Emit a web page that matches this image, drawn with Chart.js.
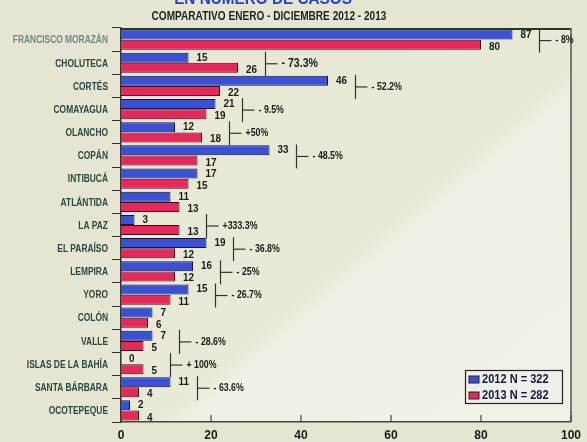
<!DOCTYPE html>
<html><head><meta charset="utf-8">
<script src="https://cdn.jsdelivr.net/npm/chart.js@4/dist/chart.umd.min.js"></script>
<style>html,body{margin:0;padding:0;background:#e5e5d1;}canvas{display:block;}</style>
</head><body>
<canvas id="c" width="587" height="442"></canvas>
<script>
const categories = ['FRANCISCO MORAZÁN','CHOLUTECA','CORTÉS','COMAYAGUA','OLANCHO','COPÁN','INTIBUCÁ','ATLÁNTIDA','LA PAZ','EL PARAÍSO','LEMPIRA','YORO','COLÓN','VALLE','ISLAS DE LA BAHÍA','SANTA BÁRBARA','OCOTEPEQUE'];
const cases2012 = [87,15,46,21,12,33,17,11,3,19,16,15,7,7,0,11,2];
const cases2013 = [80,26,22,19,18,17,15,13,13,12,12,11,6,5,5,4,4];
const changeLabels = ['- 8%','- 73.3%','- 52.2%','- 9.5%','+50%','- 48.5%','','','+333.3%','- 36.8%','- 25%','- 26.7%','','- 28.6%','+ 100%','- 63.6%',''];
const seriesNames = ['2012 N = 322','2013 N = 282'];
const xTicks = [0,20,40,60,80,100];
const titleText = 'EN NÚMERO DE CASOS';
const subtitleText = 'COMPARATIVO ENERO - DICIEMBRE 2012 - 2013';

const FONT = '"Liberation Sans", Arial, sans-serif';
const BLUE = '#3a50d6', RED = '#e6285a';

function narrowText(ctx, text, x, y, align, sx) {
  ctx.save();
  ctx.translate(x, y);
  ctx.scale(sx, 1);
  ctx.textAlign = align;
  ctx.fillText(text, 0, 0);
  ctx.restore();
}

const overlay = {
  id: 'overlay',
  beforeDraw(chart) {
    const ctx = chart.ctx, a = chart.chartArea;
    ctx.save();
    ctx.fillStyle = '#e5e5d1';
    ctx.fillRect(0, 0, chart.width, chart.height);
    const g = ctx.createLinearGradient(a.left + 200, a.top, a.right, a.bottom - 100);
    g.addColorStop(0, '#e8e8d5');
    g.addColorStop(0.5, '#e9e9d8');
    g.addColorStop(0.55, '#efefe3');
    g.addColorStop(1, '#f1f1e8');
    ctx.fillStyle = g;
    ctx.fillRect(a.left, a.top, a.right - a.left, a.bottom - a.top);
    ctx.textBaseline = 'alphabetic';
    ctx.fillStyle = '#2a3fc8';
    ctx.font = 'bold 17px ' + FONT;
    narrowText(ctx, titleText, 263, 4, 'center', 0.9);
    ctx.fillStyle = '#15281c';
    ctx.font = 'bold 12px ' + FONT;
    narrowText(ctx, subtitleText, 269, 20, 'center', 0.84);
    ctx.restore();
  },
  afterDatasetsDraw(chart) {
    const ctx = chart.ctx, a = chart.chartArea;
    const xs = chart.scales.x, ys = chart.scales.y;
    const m0 = chart.getDatasetMeta(0), m1 = chart.getDatasetMeta(1);
    ctx.save();
    // frame top & right
    ctx.strokeStyle = '#1f3a22';
    ctx.lineWidth = 2;
    ctx.beginPath(); ctx.moveTo(a.left, a.top + 1); ctx.lineTo(a.right, a.top + 1); ctx.stroke();
    ctx.strokeStyle = '#555';
    ctx.lineWidth = 1.5;
    ctx.beginPath(); ctx.moveTo(a.right, a.top); ctx.lineTo(a.right, a.bottom); ctx.stroke();
    // inward x ticks
    ctx.strokeStyle = '#444';
    ctx.lineWidth = 1.2;
    xTicks.forEach(v => {
      const x = xs.getPixelForValue(v);
      ctx.beginPath(); ctx.moveTo(x, a.bottom); ctx.lineTo(x, a.bottom - 7); ctx.stroke();
    });
    // category labels
    ctx.textBaseline = 'middle';
    ctx.font = 'bold 10px ' + FONT;
    categories.forEach((c, i) => {
      ctx.fillStyle = i === 0 ? '#6a8a88' : '#2a4846';
      narrowText(ctx, c, a.left - 13, ys.getPixelForValue(i) + 1, 'right', 0.84);
    });
    // value labels
    ctx.fillStyle = '#1a1a1a';
    ctx.font = 'bold 11px ' + FONT;
    categories.forEach((c, i) => {
      const b0 = m0.data[i], b1 = m1.data[i];
      narrowText(ctx, String(cases2012[i]), b0.x + 8, b0.y, 'left', 0.9);
      narrowText(ctx, String(cases2013[i]), b1.x + 8, b1.y + 2, 'left', 0.9);
    });
    // change brackets
    categories.forEach((c, i) => {
      if (!changeLabels[i]) return;
      const mx = Math.max(cases2012[i], cases2013[i]);
      const bx = Math.round(xs.getPixelForValue(mx) + 27) + 0.5;
      const cy = ys.getPixelForValue(i) + 1;
      ctx.strokeStyle = '#333';
      ctx.lineWidth = 1.2;
      ctx.beginPath(); ctx.moveTo(bx, cy - 12); ctx.lineTo(bx, cy + 12); ctx.stroke();
      ctx.beginPath(); ctx.moveTo(bx, cy); ctx.lineTo(bx + 12, cy); ctx.stroke();
      ctx.fillStyle = '#1a1a1a';
      ctx.font = (i === 1 ? 'bold 12px ' : 'bold 10px ') + FONT;
      narrowText(ctx, changeLabels[i], bx + 16, cy, 'left', 0.88);
    });
    // legend
    const lx = 465, ly = 370, lw = 97, lh = 33;
    ctx.fillStyle = '#eef0ea';
    ctx.fillRect(lx, ly, lw, lh);
    ctx.strokeStyle = '#222';
    ctx.lineWidth = 1.2;
    ctx.strokeRect(lx + 0.5, ly + 0.5, lw, lh);
    const cols = [BLUE, RED];
    seriesNames.forEach((n, k) => {
      const yy = ly + 9 + k * 16;
      ctx.fillStyle = cols[k];
      ctx.fillRect(lx + 4, yy - 3, 10, 7);
      ctx.strokeStyle = '#222';
      ctx.lineWidth = 1;
      ctx.strokeRect(lx + 4, yy - 3, 10, 7);
      ctx.fillStyle = '#141a3a';
      ctx.font = 'bold 12px ' + FONT;
      narrowText(ctx, n, lx + 17, yy + 1, 'left', 0.92);
    });
    ctx.restore();
  }
};

new Chart(document.getElementById('c'), {
  type: 'bar',
  data: {
    labels: categories,
    datasets: [
      { label: seriesNames[0], data: cases2012, backgroundColor: BLUE, borderColor: '#15153a', borderWidth: 1, categoryPercentage: 0.88, barPercentage: 0.98 },
      { label: seriesNames[1], data: cases2013, backgroundColor: RED, borderColor: '#3a0d18', borderWidth: 1, categoryPercentage: 0.88, barPercentage: 0.98 }
    ]
  },
  options: {
    indexAxis: 'y',
    responsive: false,
    animation: false,
    devicePixelRatio: 1,
    layout: { padding: { top: 28, right: 10, left: 0, bottom: 0 } },
    plugins: { legend: { display: false }, tooltip: { enabled: false } },
    scales: {
      x: {
        min: 0, max: 100,
        afterBuildTicks: s => { s.ticks = xTicks.map(v => ({ value: v })); },
        afterFit: s => { s.height = 20; },
        ticks: { color: '#1a1a1a', font: { family: FONT, weight: 'bold', size: 12 }, padding: 6 },
        grid: { display: false, drawTicks: false },
        border: { display: true, color: '#444', width: 1.5 }
      },
      y: {
        afterFit: s => { s.width = 121; },
        ticks: { display: false },
        grid: { drawOnChartArea: false, tickLength: 9, color: '#333', lineWidth: 1 },
        border: { display: true, color: '#333', width: 1.5 }
      }
    }
  },
  plugins: [overlay]
});
</script>
</body></html>
